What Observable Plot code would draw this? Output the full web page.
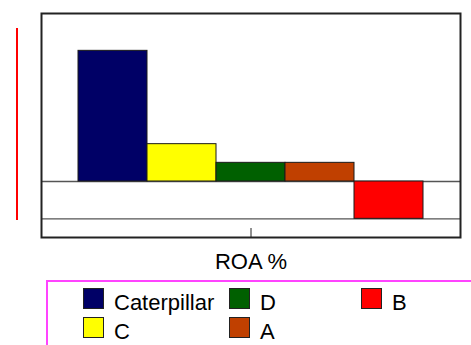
<!DOCTYPE html>
<html>
<head>
<meta charset="utf-8">
<script src="https://cdn.jsdelivr.net/npm/d3@7"></script>
<script src="https://cdn.jsdelivr.net/npm/@observablehq/plot@0.6"></script>
<style>
  html, body { margin: 0; padding: 0; background: #fff; overflow: hidden; }
  body { width: 471px; height: 345px; position: relative; font-family: "Liberation Sans", Arial, sans-serif; }
  #chart svg { display: block; }
  .side-rule { position: absolute; left: 15.5px; top: 28px; width: 2px; height: 192px; background: #ff0000; }
  .legend {
    box-sizing: border-box;
    margin-left: 46px;
    width: 460px;
    height: 80px;
    border-top: 2px solid #ff44ff;
    border-left: 2px solid #ff44ff;
    padding: 2px 0 0 35px;
    display: grid;
    grid-template-columns: 146px 132px auto;
    grid-template-rows: 29px 29px;
    grid-auto-flow: column;
  }
  .item { display: flex; align-items: flex-start; height: 29px; }
  .swatch { width: 19px; height: 19px; border: 1px solid #222; margin-top: 4px; box-sizing: content-box; }
  .label { font-size: 22px; line-height: 29px; margin-left: 10px; position: relative; top: 3.6px; color: #000; }
</style>
</head>
<body>
<div class="side-rule"></div>
<div id="chart"></div>
<div class="legend" id="legend"></div>
<script>
// ROA by company, one group
const group = "ROA %";
const companies = ["Caterpillar", "C", "D", "A", "B"];
const roa = [17.5, 5, 2.5, 2.5, -5];
const colors = ["#000066", "#ffff00", "#006000", "#c04000", "#ff0000"];
const gridValues = [-5, 0];
const legendOrder = ["Caterpillar", "C", "D", "A", "B"];

const rows = companies.map((c, i) => ({group, company: c, value: roa[i]}));

const chart = Plot.plot({
  width: 471,
  height: 280,
  marginTop: 13,
  marginLeft: 41,
  marginRight: 11,
  marginBottom: 43,
  style: {fontFamily: "Liberation Sans, Arial, sans-serif", background: "#fff"},
  fx: {domain: [group], padding: 0, label: null, axis: null},
  x: {domain: companies, paddingInner: 0, paddingOuter: 0.5, axis: null},
  y: {domain: [-7.5, 22.5], axis: null},
  color: {domain: companies, range: colors},
  marks: [
    Plot.ruleY(gridValues, {stroke: "#555", strokeWidth: 1.3}),
    Plot.barY(rows, {fx: "group", x: "company", y: "value", fill: "company", stroke: "#1a1a1a", strokeWidth: 1}),
    Plot.frame({stroke: "#222", strokeWidth: 2}),
    Plot.axisFx({anchor: "bottom", tickSize: -9, tickPadding: 24.4, fontSize: 22, stroke: "#222", fill: "#000", label: null})
  ]
});
document.getElementById("chart").appendChild(chart);

// legend, column by column
const legend = document.getElementById("legend");
for (const name of legendOrder) {
  const item = document.createElement("div");
  item.className = "item";
  const sw = document.createElement("div");
  sw.className = "swatch";
  sw.style.background = colors[companies.indexOf(name)];
  const lab = document.createElement("span");
  lab.className = "label";
  lab.textContent = name;
  item.appendChild(sw);
  item.appendChild(lab);
  legend.appendChild(item);
}
</script>
</body>
</html>
